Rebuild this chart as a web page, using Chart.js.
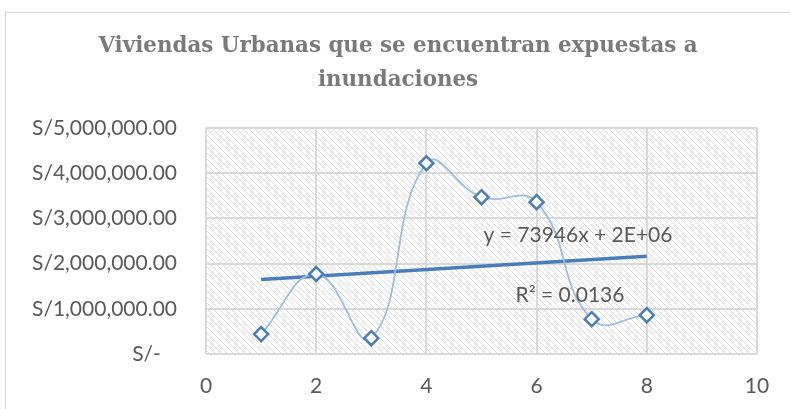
<!DOCTYPE html>
<html>
<head>
<meta charset="utf-8">
<script src="https://cdn.jsdelivr.net/npm/chart.js@4/dist/chart.umd.min.js"></script>
<style>
  html, body { margin: 0; padding: 0; background: #fff; }
  #wrap { width: 790px; height: 409px; }
</style>
</head>
<body>
<div id="wrap"><canvas id="chart" width="790" height="409"></canvas></div>
<script>
// data
const xValues = [1, 2, 3, 4, 5, 6, 7, 8];
const yValues = [440000, 1770000, 350000, 4220000, 3470000, 3360000, 770000, 860000];
const yTickLabels = ["S/-   ", "S/1,000,000.00", "S/2,000,000.00", "S/3,000,000.00", "S/4,000,000.00", "S/5,000,000.00"];
const xTickLabels = ["0", "2", "4", "6", "8", "10"];
const titleLines = ["Viviendas Urbanas que se encuentran expuestas a", "inundaciones"];
const trendText = "y = 73946x + 2E+06";
const r2Text = "R² = 0.0136";

// linear trend (least squares) from the points
function linearFit(xs, ys) {
  const n = xs.length;
  const mx = xs.reduce((a, b) => a + b, 0) / n;
  const my = ys.reduce((a, b) => a + b, 0) / n;
  let sxy = 0, sxx = 0;
  for (let i = 0; i < n; i++) {
    sxy += (xs[i] - mx) * (ys[i] - my);
    sxx += (xs[i] - mx) * (xs[i] - mx);
  }
  const m = sxy / sxx;
  return { m, b: my - m * mx };
}
const fit = linearFit(xValues, yValues);
const xFirst = xValues[0], xLast = xValues[xValues.length - 1];
const trendPoints = [
  { x: xFirst, y: fit.m * xFirst + fit.b },
  { x: xLast, y: fit.m * xLast + fit.b }
];

// hatch fill for the plot area
function makeHatch() {
  const c = document.createElement("canvas");
  c.width = 6; c.height = 6;
  const g = c.getContext("2d");
  g.fillStyle = "#ffffff";
  g.fillRect(0, 0, 6, 6);
  g.strokeStyle = "#dcdcdc";
  g.lineWidth = 1;
  g.beginPath();
  g.moveTo(-1, -1); g.lineTo(7, 7);
  g.moveTo(-4, 2); g.lineTo(4, 10);
  g.moveTo(2, -4); g.lineTo(10, 4);
  g.stroke();
  return g.createPattern(c, "repeat");
}

const background = {
  id: "background",
  beforeDraw(chart) {
    const ctx = chart.ctx;
    const a = chart.chartArea;
    ctx.save();
    ctx.fillStyle = "#ffffff";
    ctx.fillRect(0, 0, chart.width, chart.height);
    ctx.strokeStyle = "#d9d9d9";
    ctx.lineWidth = 1;
    ctx.strokeRect(5.5, 12.5, 900, 600);
    ctx.fillStyle = makeHatch();
    ctx.fillRect(a.left, a.top, a.right - a.left, a.bottom - a.top);
    ctx.restore();
  }
};

// title and trendline labels
const labels = {
  id: "labels",
  afterDatasetsDraw(chart) {
    const ctx = chart.ctx;
    const a = chart.chartArea;
    ctx.save();
    ctx.textAlign = "center";
    ctx.textBaseline = "middle";
    ctx.fillStyle = "#7a7a7a";
    ctx.font = "bold 21.4px 'DejaVu Serif', serif";
    ctx.fillText(titleLines[0], 398, 46);
    ctx.fillText(titleLines[1], 398, 80);
    ctx.fillStyle = "#595959";
    ctx.font = "21px Lato";
    ctx.fillText(trendText, a.left + 372, a.top + 107);
    ctx.fillText(r2Text, a.left + 364, a.top + 167);
    ctx.restore();
  }
};

new Chart(document.getElementById("chart"), {
  type: "scatter",
  data: {
    datasets: [
      {
        label: "Viviendas",
        data: xValues.map((x, i) => ({ x, y: yValues[i] })),
        showLine: true,
        tension: 0.45,
        borderColor: "#9dbde3",
        borderWidth: 1.8,
        pointStyle: "rectRot",
        pointRadius: 7,
        pointBorderWidth: 2.5,
        pointBorderColor: "#4a7ebb",
        pointBackgroundColor: "#ffffff",
        order: 1
      },
      {
        label: "Lineal",
        data: trendPoints,
        showLine: true,
        borderColor: "#4a7ebb",
        borderWidth: 3.5,
        pointRadius: 0,
        order: 2
      }
    ]
  },
  options: {
    responsive: false,
    animation: false,
    layout: { padding: { left: 0, right: 33, top: 128, bottom: 0 } },
    plugins: {
      legend: { display: false },
      tooltip: { enabled: false },
      title: { display: false }
    },
    scales: {
      x: {
        type: "linear",
        min: 0,
        max: 10,
        grid: { color: "#d9d9d9", lineWidth: 2, drawTicks: false },
        border: { display: false },
        afterFit: (scale) => { scale.height = 55; },
        ticks: {
          stepSize: 2,
          color: "#595959",
          font: { family: "Lato", size: 21 },
          padding: 20,
          callback: (v) => xTickLabels[v / 2]
        }
      },
      y: {
        min: 0,
        max: 5000000,
        grid: { color: "#d9d9d9", lineWidth: 2, drawTicks: false },
        border: { display: false },
        afterFit: (scale) => { scale.width = 206; },
        ticks: {
          stepSize: 1000000,
          color: "#595959",
          font: { family: "Lato", size: 21 },
          padding: 29,
          callback: (v) => yTickLabels[v / 1000000]
        }
      }
    }
  },
  plugins: [background, labels]
});
</script>
</body>
</html>
